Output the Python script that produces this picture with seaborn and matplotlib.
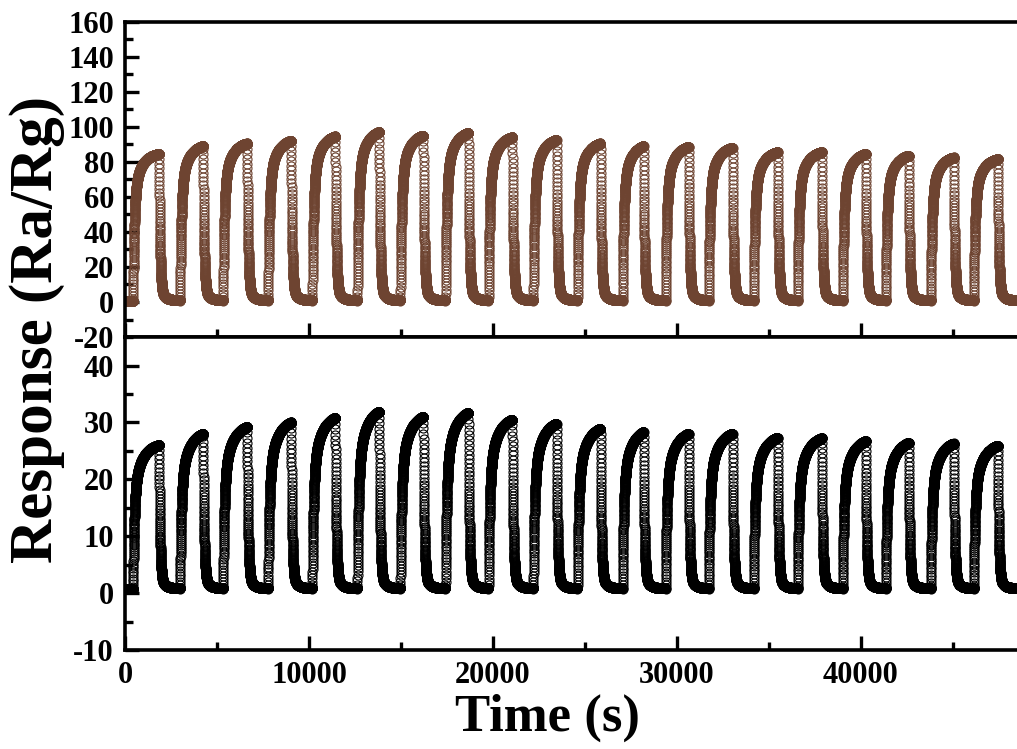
import numpy as np
import pandas as pd
import matplotlib
matplotlib.use("Agg")
import matplotlib.pyplot as plt
import seaborn as sns
from matplotlib.ticker import MultipleLocator

# ---- data ----
rise_t = [435, 2990, 5330, 7780, 10180, 12630, 14970, 17420, 19760, 22200,
          24600, 27050, 29390, 31730, 34180, 36570, 39020, 41360, 43810, 46150]
fall_t = [1850, 4245, 6640, 9030, 11430, 13820, 16220, 18670, 21060, 23460,
          25850, 28190, 30640, 33030, 35480, 37880, 40270, 42610, 45060, 47460]
peaks_top = [84.5, 89.0, 90.5, 92.0, 94.5, 97.0, 95.0, 96.5, 94.0, 92.5,
             90.5, 89.0, 88.5, 88.0, 85.5, 85.5, 84.5, 83.5, 82.5, 81.5]
peaks_bot = [26.0, 28.0, 29.2, 30.0, 30.8, 31.9, 31.0, 31.7, 30.5, 29.8,
             28.9, 28.3, 28.0, 28.0, 27.3, 27.2, 26.7, 26.4, 26.3, 25.9]
base_top = 0.8
base_bot = 0.8
t_end = 48500
x_ticks = [0, 10000, 20000, 30000, 40000]
top_yticks = [-20, 0, 20, 40, 60, 80, 100, 120, 140, 160]
bot_yticks = [-10, 0, 10, 20, 30, 40]


def response(t, peaks, base, fast_w, slow_tau):
    y = np.full_like(t, base, dtype=float)
    g = lambda d: 1 - fast_w * np.exp(-d / 70.0) - (1 - fast_w) * np.exp(-d / slow_tau)
    for i, (r, f, p) in enumerate(zip(rise_t, fall_t, peaks)):
        nxt = rise_t[i + 1] if i + 1 < len(rise_t) else t_end + 1
        m = (t >= r) & (t < f)
        y[m] = base + (p - base) * g(t[m] - r) / g(f - r)
        m2 = (t >= f) & (t < nxt)
        d = t[m2] - f
        y[m2] = base + (p - base) * (0.93 * np.exp(-d / 55.0) + 0.07 * np.exp(-d / 300.0))
    return y


t = np.arange(0, t_end, 2.0)
df_top = pd.DataFrame({"t": t, "y": response(t, peaks_top, base_top, 0.72, 420.0)})
df_bot = pd.DataFrame({"t": t, "y": response(t, peaks_bot, base_bot, 0.66, 450.0)})

sns.set_style("ticks")
plt.rcParams["font.family"] = ["Liberation Serif", "DejaVu Serif"]
plt.rcParams["font.weight"] = "bold"
plt.rcParams["axes.unicode_minus"] = False
plt.rcParams["text.color"] = "black"
plt.rcParams["axes.edgecolor"] = "black"
plt.rcParams["xtick.color"] = "black"
plt.rcParams["ytick.color"] = "black"
plt.rcParams["xtick.labelcolor"] = "black"
plt.rcParams["ytick.labelcolor"] = "black"

fig = plt.figure(figsize=(10.17, 7.49), dpi=100)
ax1 = fig.add_axes([0.123, 0.55, 0.877, 0.421])
ax2 = fig.add_axes([0.123, 0.132, 0.877, 0.418], sharex=ax1)

brown = "#6E4431"
for ax, df, c in [(ax1, df_top, brown), (ax2, df_bot, "black")]:
    sns.lineplot(data=df, x="t", y="y", ax=ax, estimator=None, sort=False,
                 linestyle="none", marker="o", markersize=6.5,
                 markerfacecolor="none", markeredgecolor=c,
                 markeredgewidth=0.8, color=c)
    ax.set_xlabel("")
    ax.set_ylabel("")
    for s in ax.spines.values():
        s.set_linewidth(2.6)
        s.set_color("black")
    ax.spines["right"].set_visible(False)
    ax.tick_params(which="major", direction="in", length=10, width=2.4,
                   labelsize=22, pad=8, right=False)
    ax.tick_params(which="minor", direction="in", length=6, width=2.4, right=False)
    ax.xaxis.set_minor_locator(MultipleLocator(5000))

ax1.set_xlim(0, t_end)
ax1.set_ylim(-20, 160)
ax1.set_yticks(top_yticks)
ax1.set_yticklabels([str(v) for v in top_yticks])
ax1.yaxis.set_minor_locator(MultipleLocator(10))
ax1.tick_params(axis="x", labelbottom=False)

ax2.set_ylim(-10, 45)
ax2.set_yticks(bot_yticks)
ax2.set_yticklabels([str(v) for v in bot_yticks])
ax2.yaxis.set_minor_locator(MultipleLocator(5))
ax2.set_xticks(x_ticks)
ax2.set_xticklabels([str(v) for v in x_ticks])
for ax in (ax1, ax2):
    for lab in ax.get_xticklabels() + ax.get_yticklabels():
        lab.set_fontweight("bold")
        lab.set_fontsize(22)
        lab.set_color("black")

fig.text(0.036, 0.56, "Response (Ra/Rg)", rotation=90, ha="center", va="center",
         fontsize=44, fontweight="bold", color="black")
fig.text(0.538, 0.042, "Time (s)", ha="center", va="center",
         fontsize=38, fontweight="bold", color="black")

fig.savefig("out.png", dpi=100)
